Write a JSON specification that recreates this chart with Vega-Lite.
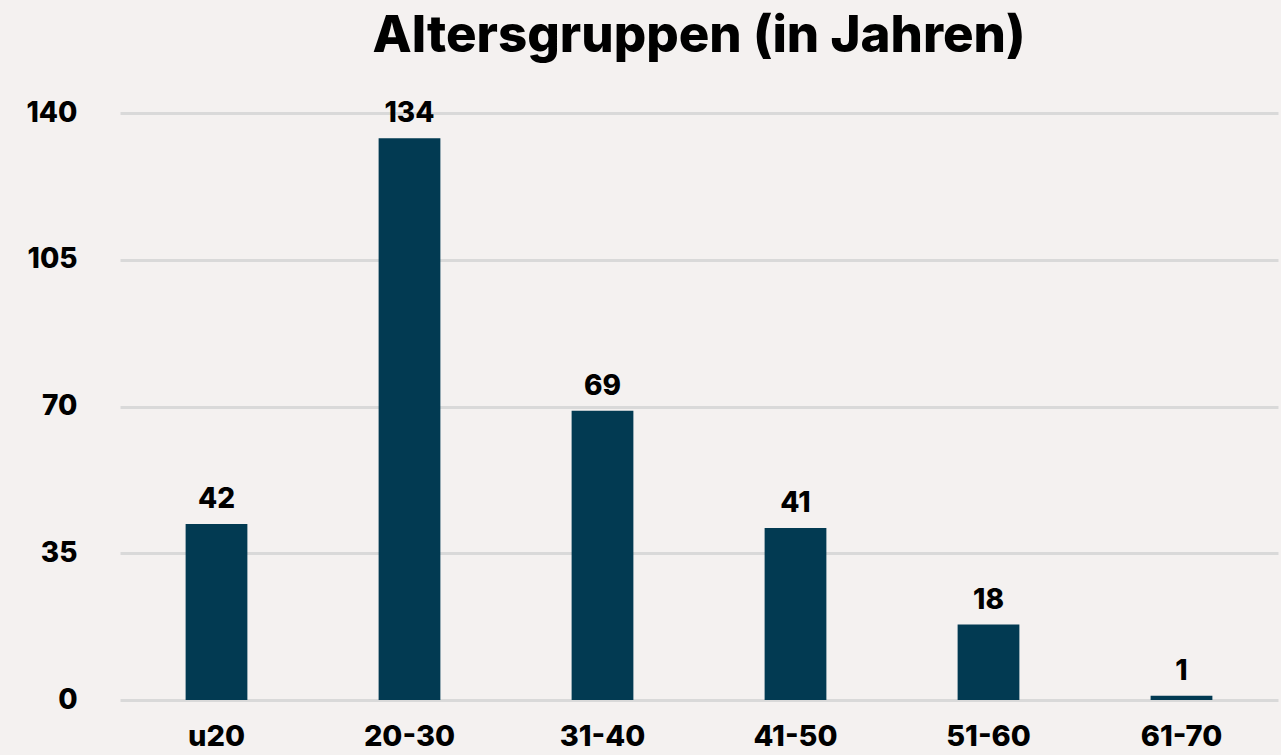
{
  "$schema": "https://vega.github.io/schema/vega-lite/v6.json",
  "autosize": "none",
  "width": 1158,
  "height": 587,
  "padding": {"left": 120, "top": 113, "right": 3, "bottom": 55},
  "background": "#f4f1f0",
  "title": {
    "text": "Altersgruppen (in Jahren)",
    "font": "Inter",
    "fontSize": 51,
    "fontWeight": 800,
    "color": "#000000",
    "anchor": "middle",
    "frame": "group",
    "offset": 36
  },
  "data": {
    "values": [
      {"gruppe": "u20", "anzahl": 42},
      {"gruppe": "20-30", "anzahl": 134},
      {"gruppe": "31-40", "anzahl": 69},
      {"gruppe": "41-50", "anzahl": 41},
      {"gruppe": "51-60", "anzahl": 18},
      {"gruppe": "61-70", "anzahl": 1}
    ]
  },
  "config": {
    "view": {"stroke": null},
    "font": "Inter"
  },
  "encoding": {
    "x": {
      "field": "gruppe",
      "type": "nominal",
      "sort": null,
      "scale": {"paddingInner": 0.68, "paddingOuter": 0.34},
      "axis": {
        "title": null,
        "labelAngle": 0,
        "domain": false,
        "ticks": false,
        "labelFont": "Inter",
        "labelFontSize": 29,
        "labelFontWeight": 800,
        "labelColor": "#000000",
        "labelPadding": 22
      }
    },
    "y": {
      "field": "anzahl",
      "type": "quantitative",
      "scale": {"domain": [0, 140]},
      "axis": {
        "title": null,
        "values": [0, 35, 70, 105, 140],
        "domain": false,
        "ticks": false,
        "grid": true,
        "gridColor": "#d9d9d9",
        "gridWidth": 3,
        "labelFont": "Inter",
        "labelFontSize": 28,
        "labelFontWeight": 800,
        "labelColor": "#000000",
        "labelPadding": 43
      }
    }
  },
  "layer": [
    {"mark": {"type": "bar", "color": "#023a52"}},
    {
      "mark": {
        "type": "text",
        "baseline": "alphabetic",
        "dy": -16,
        "font": "Inter",
        "fontSize": 28,
        "fontWeight": 800,
        "color": "#000000"
      },
      "encoding": {"text": {"field": "anzahl", "type": "quantitative"}}
    }
  ]
}
